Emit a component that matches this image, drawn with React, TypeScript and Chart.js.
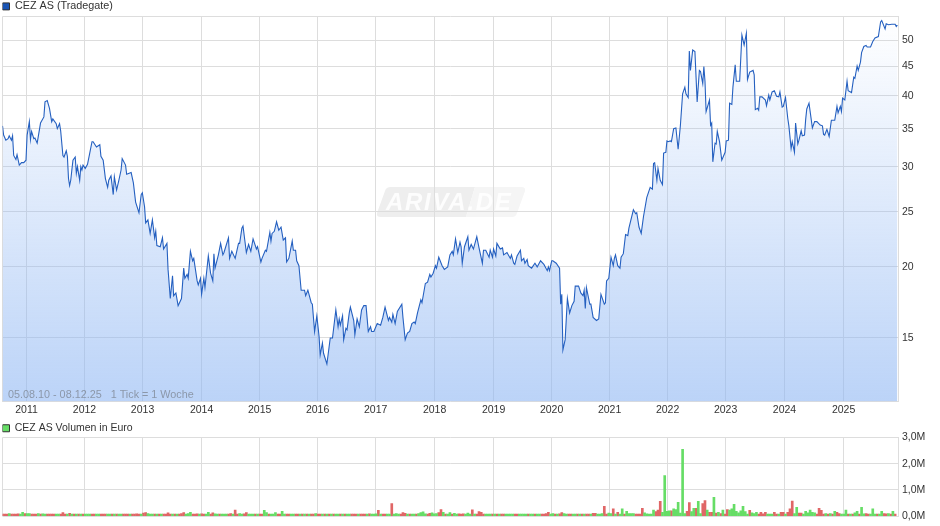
import React, { useEffect, useRef } from "react";
import { Chart, registerables } from "chart.js";

Chart.register(...registerables);

const priceTitle = "CEZ AS (Tradegate)";
const volumeTitle = "CEZ AS Volumen in Euro";
const rangeNote = "05.08.10 - 08.12.25   1 Tick = 1 Woche";
const brandLeft = "ARIVA";
const brandRight = ".DE";

const yearLabels = ["2011", "2012", "2013", "2014", "2015", "2016", "2017", "2018", "2019", "2020", "2021", "2022", "2023", "2024", "2025"];
const yearWeeks = [21.46, 73.3, 125.2, 178, 229.9, 281.7, 333.6, 386.3, 439, 490.9, 542.7, 594.6, 646.4, 699.1, 751.9];
const weekMax = 801;

const priceTicks = [15, 20, 25, 30, 35, 40, 45, 50];
const priceMin = 11.6;
const priceMax = 55.1;
const volumeTicks = [0, 1, 2, 3];

const priceWeeks = [
  0, 1, 3, 5, 6, 8, 9, 10, 12, 13, 15, 17, 19, 21, 22, 24, 25, 26, 28, 29,
  31, 34, 37, 38, 40, 42, 44, 45, 48, 49, 51, 52, 54, 55, 57, 58, 59, 60, 61, 62,
  63, 65, 66, 67, 69, 70, 71, 72, 74, 76, 78, 80, 81, 84, 87, 88, 90, 92, 94, 95,
  97, 99, 100, 102, 104, 106, 107, 110, 111, 115, 117, 119, 122, 124, 125, 127, 128, 130, 132, 134,
  136, 137, 138, 141, 143, 144, 147, 148, 150, 152, 153, 155, 157, 160, 162, 163, 165, 166, 168, 170,
  171, 174, 175, 177, 178, 180, 181, 184, 186, 188, 189, 190, 193, 195, 197, 198, 202, 203, 205, 208,
  211, 212, 214, 215, 218, 220, 222, 224, 227, 228, 231, 232, 235, 236, 239, 240, 241, 243, 245, 247,
  249, 251, 253, 254, 256, 259, 260, 262, 263, 265, 267, 270, 271, 273, 276, 277, 279, 281, 283, 284,
  286, 287, 290, 293, 295, 298, 300, 301, 302, 304, 305, 307, 308, 310, 311, 314, 315, 317, 319, 321,
  323, 325, 327, 329, 330, 332, 335, 338, 340, 342, 345, 346, 348, 349, 351, 353, 357, 358, 360, 362,
  364, 366, 368, 369, 371, 374, 375, 378, 380, 382, 383, 385, 387, 388, 390, 393, 395, 398, 400, 402,
  403, 405, 407, 409, 410, 411, 413, 416, 417, 419, 421, 424, 426, 429, 430, 432, 435, 436, 438, 439,
  441, 442, 445, 447, 448, 451, 454, 455, 457, 458, 460, 463, 464, 466, 467, 469, 470, 473, 476, 478,
  481, 484, 487, 488, 489, 491, 492, 495, 498, 499, 500, 501, 503, 505, 507, 509, 511, 512, 515, 517,
  519, 520, 521, 522, 525, 526, 528, 531, 533, 535, 538, 539, 540, 542, 544, 546, 547, 548, 550, 552,
  553, 555, 557, 559, 560, 564, 566, 567, 569, 571, 573, 576, 579, 581, 582, 583, 585, 586, 588, 590,
  591, 593, 594, 595, 597, 598, 600, 602, 604, 606, 608, 610, 611, 613, 614, 615, 617, 619, 621, 623,
  624, 626, 627, 628, 629, 632, 633, 634, 635, 637, 638, 639, 641, 643, 646, 647, 649, 650, 652, 653,
  655, 656, 659, 661, 663, 665, 666, 668, 671, 672, 673, 675, 676, 677, 679, 682, 683, 685, 686, 688,
  690, 692, 694, 695, 697, 698, 700, 702, 703, 705, 706, 708, 709, 711, 712, 714, 715, 717, 718, 719,
  721, 724, 726, 728, 731, 733, 734, 735, 737, 739, 741, 744, 746, 747, 749, 750, 751, 753, 755, 756,
  759, 761, 762, 764, 765, 767, 768, 770, 772, 773, 776, 778, 780, 783, 785, 786, 789, 790, 792, 795,
  798, 799, 800,
];

const priceValues = [
  35.4, 34.1, 33.4, 33.6, 34.0, 33.4, 34.0, 31.4, 30.9, 31.5, 30.2, 30.5, 30.5, 30.8, 34.1, 36.0, 33.5, 34.6, 33.6, 33.7,
  33.0, 35.8, 36.7, 39.0, 39.2, 38.0, 36.0, 36.4, 35.7, 35.0, 35.7, 34.7, 31.4, 31.2, 32.0, 31.3, 28.6, 27.8, 28.4, 29.6,
  30.8, 31.2, 29.2, 30.0, 28.4, 30.0, 29.6, 30.2, 29.8, 30.3, 31.7, 33.2, 33.2, 32.5, 32.8, 31.3, 30.8, 28.6, 27.6, 28.4,
  28.9, 26.8, 28.8, 27.3, 28.4, 29.6, 31.0, 30.2, 29.1, 29.3, 28.1, 26.0, 24.9, 26.8, 27.0, 25.5, 23.9, 24.2, 22.9, 24.2,
  22.5, 23.1, 21.8, 21.7, 22.5, 21.5, 22.0, 19.8, 17.6, 19.3, 17.8, 18.0, 17.1, 17.6, 19.9, 19.1, 19.4, 19.1, 21.3, 20.5,
  20.7, 18.9, 18.6, 19.1, 17.9, 19.1, 18.4, 20.9, 19.5, 18.9, 21.1, 19.9, 21.0, 22.0, 21.0, 21.2, 22.5, 20.7, 21.3, 20.7,
  22.0, 22.0, 23.4, 23.6, 21.2, 21.9, 21.3, 22.4, 21.5, 21.7, 20.4, 20.7, 21.4, 21.3, 23.0, 22.2, 22.9, 23.1, 24.0, 23.2,
  23.5, 22.3, 22.5, 20.4, 20.7, 22.2, 21.4, 21.4, 20.5, 20.1, 18.2, 18.2, 17.8, 18.2, 17.3, 17.2, 15.4, 16.4, 15.1, 14.0,
  14.7, 14.1, 13.5, 15.0, 15.0, 16.8, 15.7, 16.2, 15.8, 16.4, 14.9, 15.6, 15.5, 16.6, 17.0, 16.1, 15.2, 16.2, 15.7, 16.8,
  17.1, 17.1, 15.4, 15.7, 15.4, 15.4, 15.9, 15.8, 16.3, 17.0, 16.1, 16.3, 16.0, 16.5, 15.9, 16.7, 17.2, 16.3, 14.9, 15.3,
  15.4, 15.9, 16.0, 15.9, 16.6, 17.5, 17.3, 18.7, 18.8, 19.4, 19.2, 19.5, 20.1, 19.9, 20.8, 20.1, 19.8, 20.0, 21.0, 21.3,
  21.0, 22.4, 21.2, 22.1, 21.7, 20.3, 21.7, 22.6, 21.4, 21.9, 21.5, 22.6, 21.6, 20.3, 21.4, 21.4, 20.8, 21.4, 20.8, 21.5,
  20.9, 22.0, 21.5, 21.6, 21.0, 21.2, 20.7, 21.0, 20.3, 20.2, 20.9, 21.4, 20.5, 20.7, 20.3, 20.6, 20.1, 19.9, 20.3, 20.0,
  20.5, 20.2, 19.7, 20.0, 19.7, 20.5, 20.5, 20.3, 19.9, 17.2, 17.9, 14.3, 14.9, 17.6, 16.6, 17.1, 17.4, 18.5, 18.5, 18.0,
  17.8, 18.2, 16.9, 18.4, 17.2, 17.2, 16.3, 16.1, 16.2, 17.9, 17.2, 17.3, 18.9, 19.1, 20.8, 20.1, 20.7, 21.0, 20.1, 19.9,
  20.8, 21.1, 22.8, 22.7, 23.4, 25.2, 24.8, 24.9, 23.5, 22.9, 24.5, 26.5, 27.6, 27.4, 30.4, 30.5, 28.4, 29.8, 28.4, 27.9,
  31.7, 31.8, 33.3, 33.2, 33.3, 33.2, 35.0, 35.1, 32.2, 35.4, 40.3, 41.4, 40.3, 39.7, 47.9, 44.3, 48.1, 47.8, 39.0, 44.3,
  44.1, 42.0, 45.0, 42.4, 37.5, 39.3, 35.5, 35.8, 30.6, 33.0, 32.9, 34.6, 33.2, 30.8, 31.8, 33.3, 33.4, 38.8, 38.6, 41.4,
  45.3, 42.4, 42.4, 51.1, 49.1, 51.5, 42.7, 44.0, 44.3, 43.5, 37.8, 38.0, 37.7, 39.8, 39.8, 39.3, 38.4, 40.1, 39.3, 40.6,
  40.8, 39.9, 39.8, 40.6, 38.2, 38.3, 39.7, 36.5, 35.4, 32.3, 33.2, 31.8, 35.8, 32.9, 33.4, 34.7, 34.0, 34.1, 36.3, 37.9,
  38.8, 35.1, 36.0, 36.0, 35.5, 35.4, 34.2, 34.1, 34.9, 33.9, 36.2, 36.2, 38.3, 37.3, 38.3, 37.5, 39.6, 39.3, 42.4, 40.8,
  40.5, 43.1, 42.9, 45.1, 44.3, 45.8, 47.6, 48.8, 49.0, 48.7, 48.7, 49.8, 50.5, 50.8, 53.9, 54.2, 52.4, 53.5, 53.3, 53.4,
  53.4, 52.9, 53.2,
];

// Volume in million euro, one bar for every two weeks.
const volumeValues = [
  0.06, 0.06, 0.05, 0.10, 0.06, 0.07, 0.07, 0.09, 0.05, 0.15, 0.10, 0.10, 0.10, 0.07, 0.07, 0.07, 0.10, 0.05, 0.09, 0.08,
  0.07, 0.07, 0.07, 0.04, 0.07, 0.05, 0.05, 0.14, 0.07, 0.04, 0.11, 0.06, 0.03, 0.05, 0.03, 0.05, 0.02, 0.05, 0.02, 0.04,
  0.07, 0.07, 0.03, 0.03, 0.06, 0.06, 0.03, 0.06, 0.05, 0.03, 0.05, 0.03, 0.08, 0.08, 0.04, 0.08, 0.03, 0.03, 0.03, 0.07,
  0.09, 0.07, 0.04, 0.12, 0.14, 0.10, 0.07, 0.06, 0.03, 0.03, 0.03, 0.05, 0.07, 0.08, 0.13, 0.07, 0.02, 0.05, 0.04, 0.06,
  0.10, 0.14, 0.05, 0.10, 0.15, 0.05, 0.06, 0.09, 0.04, 0.09, 0.05, 0.07, 0.15, 0.06, 0.13, 0.09, 0.07, 0.06, 0.08, 0.08,
  0.07, 0.06, 0.10, 0.07, 0.23, 0.07, 0.10, 0.08, 0.09, 0.14, 0.05, 0.05, 0.04, 0.04, 0.03, 0.06, 0.07, 0.22, 0.14, 0.06,
  0.05, 0.05, 0.14, 0.04, 0.05, 0.19, 0.04, 0.05, 0.03, 0.03, 0.03, 0.07, 0.06, 0.05,
  0.06, 0.03, 0.03, 0.03, 0.08, 0.06, 0.10, 0.05, 0.03, 0.02, 0.06, 0.03, 0.05, 0.03, 0.03, 0.05, 0.07, 0.06, 0.08, 0.03,
  0.03, 0.08, 0.03, 0.02, 0.02, 0.03, 0.02, 0.03, 0.04, 0.05, 0.09, 0.04, 0.08, 0.09, 0.22, 0.07, 0.04, 0.06, 0.03, 0.07,
  0.48, 0.08, 0.10, 0.07, 0.08, 0.14, 0.11, 0.05, 0.03, 0.06, 0.03, 0.06, 0.10, 0.14, 0.17, 0.09, 0.08, 0.11, 0.13, 0.09,
  0.10, 0.14, 0.25, 0.15, 0.05, 0.07, 0.14, 0.08, 0.11, 0.07, 0.09, 0.07, 0.09, 0.04, 0.12, 0.06, 0.24, 0.05, 0.06, 0.18,
  0.15, 0.05, 0.04, 0.03, 0.06, 0.02, 0.03, 0.05, 0.02, 0.03, 0.03, 0.04, 0.03, 0.04, 0.05, 0.03, 0.03, 0.04, 0.06, 0.04,
  0.07, 0.03, 0.03, 0.05, 0.03, 0.06, 0.05, 0.03, 0.06, 0.10, 0.15, 0.03, 0.10, 0.06, 0.03, 0.09, 0.14, 0.10, 0.08, 0.04,
  0.05, 0.03, 0.07, 0.04, 0.05, 0.03, 0.03, 0.03, 0.05, 0.06, 0.11, 0.11, 0.05,
  0.06, 0.10, 0.38, 0.08, 0.12, 0.10, 0.28, 0.06, 0.15, 0.08, 0.28, 0.05, 0.19, 0.10, 0.10, 0.10, 0.06, 0.07, 0.08, 0.30,
  0.13, 0.09, 0.08, 0.08, 0.23, 0.18, 0.23, 0.57, 0.15, 1.55, 0.19, 0.20, 0.20, 0.28, 0.25, 0.53, 0.12, 2.55, 0.10, 0.19,
  0.52, 0.18, 0.30, 0.30, 0.57, 0.10, 0.48, 0.60, 0.23, 0.15, 0.15, 0.72, 0.12, 0.15, 0.10, 0.23, 0.05, 0.25, 0.23, 0.28,
  0.45, 0.19, 0.13, 0.20, 0.38, 0.18, 0.08, 0.22, 0.13, 0.10, 0.15, 0.05, 0.15, 0.09, 0.15, 0.06, 0.08, 0.05, 0.15, 0.07,
  0.05, 0.15, 0.15, 0.04, 0.15, 0.28, 0.58, 0.10, 0.34, 0.12, 0.12, 0.05, 0.19, 0.13, 0.23, 0.15, 0.13, 0.06, 0.30, 0.22,
  0.06, 0.10, 0.08, 0.10, 0.06, 0.19, 0.15, 0.10, 0.03, 0.06, 0.23, 0.08, 0.06, 0.05, 0.13, 0.19, 0.06, 0.34, 0.09, 0.10,
  0.08, 0.05, 0.28, 0.08, 0.05, 0.04, 0.19, 0.10, 0.09, 0.10, 0.06, 0.19, 0.08,
];

// G = week closed up (green bar), R = week closed down (red bar), same order as volumeValues.
const volumeDirections = [
  "RRRGRRRRGG", "RGGRRRGRGG", "RRRRGGRRRG", "RGRGRGRGGG", "RRGGRRRGGR", "GRGGRRRGRR", "RRGRRGGGRG",
  "RGRRRRGRGR", "RRGGGRRRGR", "RGGRRGGRGG", "GRRGRRGGRR", "GGGRGRRGGR", "GGGRRGGRRG", "GRRG",
  "RGRGRRGRRG", "RGRGRGGRGR", "GGRRRGRRRG", "RGGGRGRRGG", "RGGGRRRGRG", "GRGGGGRRGG", "GRRGRGGRGG",
  "RRRGGGRGRR", "RRGGGRGRGR", "RGGGGRRGGG", "GRGGRGGRRR", "RGGRGRRGGR", "RGGRGRGRRG", "RRG",
  "GGRRGGRGRG", "GRGGGGRRRR", "GGGGGRRRGG", "GGRGGGGGGR", "RGGRGGRRGR", "RGRGRGRRGG", "GGGGGGGRGG",
  "GRRRRGGGRR", "GRRGRRRGGR", "RGGGGGGRRR", "RGRGRGRRGG", "GRGRGGRGGR", "RGGGRGGRRG", "RGR",
].join("");

const FONT = '"Liberation Sans", Arial, sans-serif';
const TEXT = "#333333";
const GRID = "#dddddd";
const LINE = "#2560c0";
const BAR_UP = "#66dd66";
const BAR_DOWN = "#e06666";

const sharedWeekAxis = (showLabels: boolean, height: number) => ({
  type: "linear",
  min: 0,
  max: weekMax,
  offset: false,
  grid: { color: GRID, lineWidth: 1, drawTicks: false, offset: false },
  border: { display: false },
  afterBuildTicks: (scale: any) => {
    scale.ticks = [0, ...yearWeeks, weekMax].map((value) => ({ value }));
  },
  afterFit: (scale: any) => {
    scale.height = height;
  },
  ticks: {
    display: showLabels,
    autoSkip: false,
    maxRotation: 0,
    padding: 2,
    color: TEXT,
    font: { family: FONT, size: 10.5 },
    callback: (value: number) => {
      const index = yearWeeks.indexOf(value);
      return index >= 0 ? yearLabels[index] : "";
    },
  },
});

const legendOptions = (title: string, color: string, size: number) => ({
  display: true,
  position: "top",
  align: "start",
  labels: {
    boxWidth: 7,
    boxHeight: 7,
    padding: 0,
    color: TEXT,
    font: { family: FONT, size },
    generateLabels: () => [
      { text: title, fillStyle: color, strokeStyle: "#333333", lineWidth: 1, fontColor: TEXT, hidden: false, index: 0, datasetIndex: 0 },
    ],
  },
});

// Fixes the height the legend claims, so the plot starts right below the caption.
const legendHeight = (height: number) => ({
  id: "legendHeight",
  beforeLayout(chart: any) {
    const legend = chart.legend;
    if (!legend || legend.__pinned) return;
    const fit = legend.fit;
    legend.fit = function () {
      fit.call(this);
      this.height = height;
    };
    legend.__pinned = true;
  },
});

const watermark = {
  id: "watermark",
  beforeDraw(chart: any) {
    const ctx = chart.ctx;
    ctx.save();
    const band = (x0: number, x1: number, color: string, roundLeft: boolean, roundRight: boolean) => {
      const top = 187;
      const bottom = 217;
      const slant = 9;
      ctx.beginPath();
      ctx.moveTo(x0 + slant + (roundLeft ? 5 : 0), top);
      if (roundRight) {
        ctx.lineTo(x1 - 4, top);
        ctx.quadraticCurveTo(x1 + 1, top, x1, top + 4);
        ctx.lineTo(x1 - slant + 1, bottom - 4);
        ctx.quadraticCurveTo(x1 - slant, bottom, x1 - slant - 4, bottom);
      } else {
        ctx.lineTo(x1, top);
        ctx.lineTo(x1 - slant, bottom);
      }
      if (roundLeft) {
        ctx.lineTo(x0 + 4, bottom);
        ctx.quadraticCurveTo(x0 - 1, bottom, x0, bottom - 4);
        ctx.lineTo(x0 + slant - 1, top + 4);
        ctx.quadraticCurveTo(x0 + slant, top, x0 + slant + 5, top);
      } else {
        ctx.lineTo(x0, bottom);
      }
      ctx.closePath();
      ctx.fillStyle = color;
      ctx.fill();
    };
    band(377, 475, "#eeeeee", true, false);
    band(466, 525, "#f5f5f5", false, true);
    ctx.fillStyle = "rgba(255,255,255,0.85)";
    ctx.font = `italic bold 24px ${FONT}`;
    ctx.textBaseline = "alphabetic";
    ctx.textAlign = "left";
    ctx.letterSpacing = "1.7px";
    ctx.fillText(brandLeft, 386, 210);
    const left = ctx.measureText(brandLeft).width;
    ctx.fillText(brandRight, 386 + left, 210);
    ctx.restore();
  },
};

const rangeNotePlugin = {
  id: "rangeNote",
  afterDraw(chart: any) {
    const ctx = chart.ctx;
    ctx.save();
    ctx.fillStyle = "rgba(90,90,90,0.5)";
    ctx.font = `10.8px ${FONT}`;
    ctx.textBaseline = "middle";
    ctx.textAlign = "left";
    ctx.fillText(rangeNote, 8, chart.chartArea.bottom - 6);
    ctx.restore();
  },
};

export default function App() {
  const priceRef = useRef<HTMLCanvasElement>(null);
  const volumeRef = useRef<HTMLCanvasElement>(null);

  useEffect(() => {
    document.body.style.margin = "0";
    document.body.style.background = "#ffffff";

    const count = Math.min(priceWeeks.length, priceValues.length);
    const pricePoints = priceWeeks.slice(0, count).map((x, i) => ({ x, y: priceValues[i] }));

    const priceChart = new Chart(priceRef.current as HTMLCanvasElement, {
      type: "line",
      data: {
        datasets: [
          {
            label: priceTitle,
            data: pricePoints,
            borderColor: LINE,
            borderWidth: 1.1,
            pointRadius: 0,
            tension: 0,
            fill: "start",
            backgroundColor: (context: any) => {
              const area = context.chart.chartArea;
              if (!area) return "rgba(142,182,243,0.3)";
              const gradient = context.chart.ctx.createLinearGradient(0, area.top, 0, area.bottom);
              gradient.addColorStop(0, "rgba(142,182,243,0)");
              gradient.addColorStop(1, "rgba(142,182,243,0.6)");
              return gradient;
            },
          },
        ],
      },
      plugins: [legendHeight(15.5), watermark, rangeNotePlugin],
      options: {
        responsive: false,
        animation: false,
        devicePixelRatio: 1,
        layout: { autoPadding: false, padding: { left: 2.5, right: 0, top: 1, bottom: 0 } },
        plugins: { legend: legendOptions(priceTitle, "#1a55b5", 10.8), tooltip: { enabled: false } },
        scales: {
          x: sharedWeekAxis(true, 18.5),
          y: {
            type: "logarithmic",
            position: "right",
            min: priceMin,
            max: priceMax,
            grid: { color: GRID, lineWidth: 1, drawTicks: false },
            border: { display: false },
            afterBuildTicks: (scale: any) => {
              scale.ticks = [priceMin, ...priceTicks, priceMax].map((value) => ({ value }));
            },
            afterFit: (scale: any) => {
              scale.width = 41.5;
            },
            ticks: {
              autoSkip: false,
              crossAlign: "near",
              padding: 3.5,
              color: TEXT,
              font: { family: FONT, size: 10.5 },
              callback: (value: number) => (priceTicks.includes(value) ? String(value) : ""),
            },
          },
        },
      },
    } as any);

    const upPoints: { x: number; y: number }[] = [];
    const downPoints: { x: number; y: number }[] = [];
    volumeValues.forEach((y, i) => {
      (volumeDirections[i] === "G" ? upPoints : downPoints).push({ x: i * 2, y });
    });

    const volumeChart = new Chart(volumeRef.current as HTMLCanvasElement, {
      type: "bar",
      data: {
        datasets: [
          { label: volumeTitle, data: upPoints, backgroundColor: BAR_UP, barThickness: 2, minBarLength: 2, grouped: false },
          { label: volumeTitle, data: downPoints, backgroundColor: BAR_DOWN, barThickness: 2, minBarLength: 2, grouped: false },
        ],
      },
      plugins: [legendHeight(14.5)],
      options: {
        responsive: false,
        animation: false,
        devicePixelRatio: 1,
        layout: { autoPadding: false, padding: { left: 2.5, right: 0, top: 3, bottom: 0 } },
        plugins: { legend: legendOptions(volumeTitle, BAR_UP, 10.5), tooltip: { enabled: false } },
        scales: {
          x: sharedWeekAxis(false, 9.5),
          y: {
            type: "linear",
            position: "right",
            min: 0,
            max: 3,
            grid: { color: GRID, lineWidth: 1, drawTicks: false },
            border: { display: false },
            afterBuildTicks: (scale: any) => {
              scale.ticks = volumeTicks.map((value) => ({ value }));
            },
            afterFit: (scale: any) => {
              scale.width = 41.5;
            },
            ticks: {
              autoSkip: false,
              crossAlign: "near",
              padding: 3.5,
              color: TEXT,
              font: { family: FONT, size: 10.5 },
              callback: (value: number) => `${value.toFixed(1).replace(".", ",")}M`,
            },
          },
        },
      },
    } as any);

    return () => {
      priceChart.destroy();
      volumeChart.destroy();
    };
  }, []);

  return (
    <div style={{ position: "relative", width: 940, height: 526, background: "#ffffff" }}>
      <canvas ref={priceRef} width={940} height={420} style={{ position: "absolute", left: 0, top: 0, display: "block" }} />
      <canvas ref={volumeRef} width={940} height={106} style={{ position: "absolute", left: 0, top: 420, display: "block" }} />
    </div>
  );
}
